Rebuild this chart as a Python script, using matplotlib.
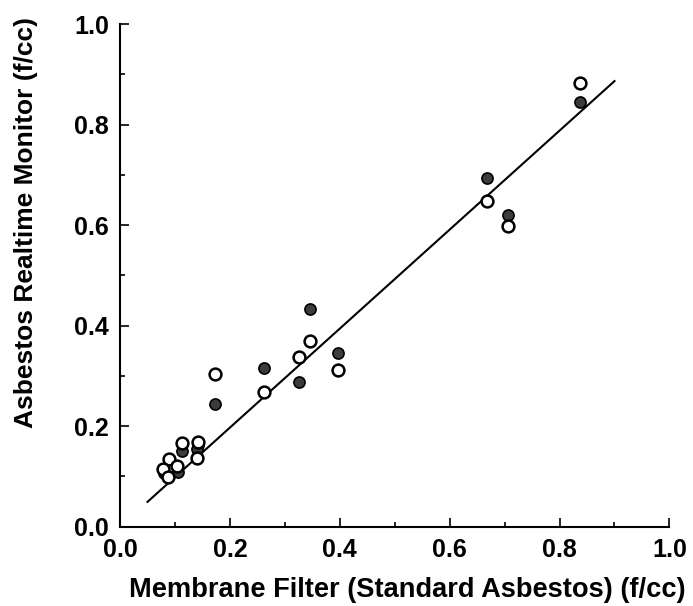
import matplotlib
matplotlib.use("Agg")
import matplotlib.pyplot as plt
import numpy as np
from matplotlib.ticker import MultipleLocator

plt.rcParams['font.family'] = ['Liberation Sans', 'DejaVu Sans']

# open circles
open_x = [0.837, 0.668, 0.706, 0.345, 0.326, 0.397, 0.262, 0.173,
          0.142, 0.140, 0.113, 0.089, 0.104, 0.078, 0.088]
open_y = [0.883, 0.648, 0.599, 0.369, 0.337, 0.312, 0.268, 0.303,
          0.168, 0.137, 0.166, 0.134, 0.120, 0.114, 0.099]

# filled circles
filled_x = [0.838, 0.668, 0.706, 0.345, 0.397, 0.262, 0.326, 0.173,
            0.142, 0.140, 0.112, 0.105, 0.080]
filled_y = [0.845, 0.693, 0.621, 0.433, 0.345, 0.316, 0.287, 0.243,
            0.162, 0.155, 0.151, 0.109, 0.107]

# regression line
fit_x = np.array([0.05, 0.90])
slope = 0.985
intercept = 0.0

fig = plt.figure(figsize=(6.93, 6.06), dpi=100)
ax = fig.add_axes([0.1732, 0.131, 0.7928, 0.8293])

ax.plot(fit_x, slope * fit_x + intercept, color='black', lw=1.5, zorder=2)
ax.plot(filled_x, filled_y, 'o', ms=8, mfc='#3c3c3c', mec='black', mew=1.2, zorder=3)
ax.plot(open_x, open_y, 'o', ms=8.5, mfc='white', mec='black', mew=1.8, zorder=4)

ax.set_xlim(0, 1.0)
ax.set_ylim(0, 1.0)
ax.xaxis.set_major_locator(MultipleLocator(0.2))
ax.xaxis.set_minor_locator(MultipleLocator(0.1))
ax.yaxis.set_major_locator(MultipleLocator(0.2))
ax.yaxis.set_minor_locator(MultipleLocator(0.1))
ax.xaxis.set_major_formatter(matplotlib.ticker.FormatStrFormatter('%.1f'))
ax.yaxis.set_major_formatter(matplotlib.ticker.FormatStrFormatter('%.1f'))

for s in ['top', 'right']:
    ax.spines[s].set_visible(False)
for s in ['left', 'bottom']:
    ax.spines[s].set_linewidth(1.5)

ax.tick_params(which='major', direction='in', length=6.5, width=1.2,
               labelsize=18, pad=8)
ax.tick_params(which='minor', direction='in', length=3.5, width=1.2)
for lab in ax.get_xticklabels() + ax.get_yticklabels():
    lab.set_fontweight('bold')

ax.set_xlabel('Membrane Filter (Standard Asbestos) (f/cc)', fontsize=19.6,
              fontweight='bold')
ax.set_ylabel('Asbestos Realtime Monitor (f/cc)', fontsize=19,
              fontweight='bold')
ax.xaxis.set_label_coords(0.522, -0.126)
ax.yaxis.set_label_coords(-0.171, 0.606)
ax.xaxis.label.set_va('center')
ax.yaxis.label.set_va('center')

fig.savefig("out.png", dpi=100)
plt.close(fig)
